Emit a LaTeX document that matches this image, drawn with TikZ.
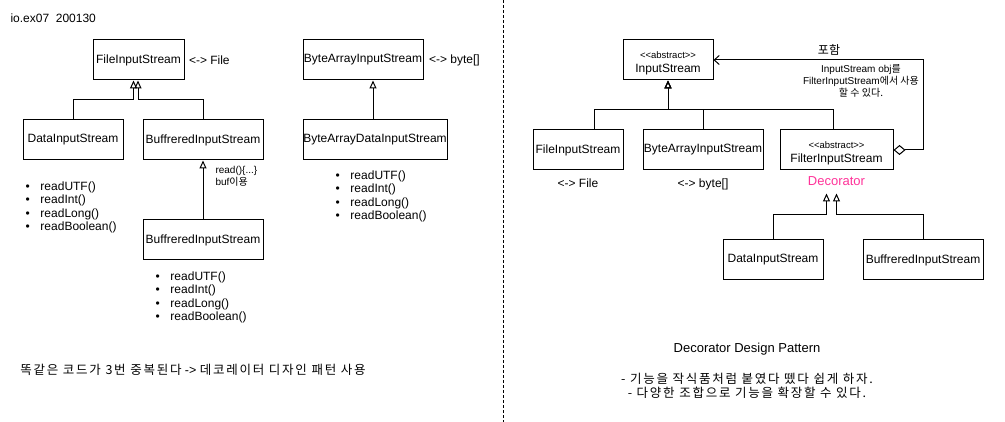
\documentclass[tikz,border=0pt]{standalone}
\usepackage{fontspec}
\setmainfont{Liberation Sans}
\newfontfamily\kr{Noto Sans CJK KR}
\newfontfamily\krwide{Noto Sans CJK KR}[LetterSpace=14]
\usetikzlibrary{arrows.meta,positioning}
\definecolor{deco}{HTML}{FF3399}
\tikzset{
    block/.style = {draw, rectangle, 
        minimum height=40pt, inner sep=0pt,
        align=center, font=\fontsize{12}{14}\selectfont},
    note/.style = {inner sep=0pt, font=\fontsize{12}{14}\selectfont},
    small/.style = {inner sep=0pt, align=center, font=\fontsize{10}{12}\selectfont},
    item/.style = {inner sep=0pt, anchor=base west, font=\fontsize{12}{14}\selectfont},
    inherit/.style = {draw, -{Triangle[open,width=7pt,length=8pt]}},
    aggr/.style = {draw, {Diamond[open,width=10pt,length=12pt]}-{Straight Barb[width=9pt,length=5pt]}},
    divider/.style = {dash pattern=on 3pt off 2pt}
}
\newcommand\bul{\makebox[15pt][l]{\textbullet}}
\newcommand\abstr{{\fontsize{9.5}{11}\selectfont\rule{0pt}{14pt}<{}<abstract>{}>}}

\begin{document}
\begin{tikzpicture}[x=1pt, y=-1pt, line width=1pt]
    \fill [white] (0,0) rectangle (1005,422);
    \useasboundingbox (0,0) rectangle (1005,422);
    % left half: one class per feature
    \node [note, anchor=west] (title) at (10,18) {io.ex07\ \ 200130};
    \node [block, minimum width=91pt] (fis) at (138.5,60) {FileInputStream};
    \node [note, right=4pt of fis] (fisnote) {<-> File};
    \node [block, minimum width=100pt] (dis) at (73,140) {DataInputStream};
    \node [block, minimum width=120pt] (bis) at (203,140) {BuffreredInputStream};
    \node [block, minimum width=120pt] (bisb) at (203,240) {BuffreredInputStream};
    \node [small, align=left, anchor=north west] (readnote) at (215,166) {read()\{...\}\\buf{\kr 이용}};
    \node [block, minimum width=120pt] (bais) at (363,60) {ByteArrayInputStream};
    \node [note, right=5pt of bais] (baisnote) {<-> byte[]};
    \node [block, minimum width=144pt] (bada) at (375,140) {ByteArrayDataInputStream};
    \draw [inherit] (dis.north) -- ++(0,-20) -| ([xshift=-5pt]fis.south);
    \draw [inherit] (bis.north) -- ++(0,-20) -| ([xshift=-0.5pt]fis.south);
    \draw [inherit] (bisb.north) -- (bis.south);
    \draw [inherit] ([xshift=-2pt]bada.north) -- ([xshift=-2pt]bada.north |- bais.south);
    \foreach \m [count=\k] in {readUTF(),readInt(),readLong(),readBoolean()} {
        \node [item] (dism\k) at (25,{190.5+13.4*(\k-1)}) {\bul\m};
        \node [item] (bism\k) at (155,{280.5+13.4*(\k-1)}) {\bul\m};
        \node [item] (badam\k) at (335,{179.5+13.4*(\k-1)}) {\bul\m};
    }
    \node [note, font=\fontsize{12.5}{14}\selectfont] (dup) at (193,370) {{\krwide 똑같은 코드가 3번 중복된다} -> {\krwide 데코레이터 디자인 패턴 사용}};
    \draw [divider] (503,0) -- (503,422);
    % right half: decorator pattern
    \node [block, minimum width=90pt] (is) at (668,60) {\abstr\\InputStream};
    \node [block, minimum width=90pt] (rfis) at (578,150) {FileInputStream};
    \node [block, minimum width=120pt] (rbais) at (703,150) {ByteArrayInputStream};
    \node [block, minimum width=113pt] (filt) at (836.5,150) {\abstr\\FilterInputStream};
    \node [note, below=8pt of rfis] (rfisnote) {<-> File};
    \node [note, below=8pt of rbais] (rbaisnote) {<-> byte[]};
    \node [note, text=deco, font=\fontsize{13}{15}\selectfont, minimum height=24pt] (deco) at (836.5,181) {Decorator};
    \node [block, minimum width=100pt] (rdis) at (773,260) {DataInputStream};
    \node [block, minimum width=120pt] (rbis) at (923,260) {BuffreredInputStream};
    \draw [inherit] ([xshift=16pt]rfis.north) -- ++(0,-20) -| (is.south);
    \draw [inherit] (rbais.north) -- ++(0,-20) -| (is.south);
    \draw [inherit] ([xshift=-3.5pt]filt.north) -- ++(0,-20) -| (is.south);
    \draw [inherit] (rdis.north) -- ++(0,-25) -| ([xshift=-10pt]deco.south);
    \draw [inherit] (rbis.north) -- ++(0,-25) -| (deco.south);
    \draw [aggr] (filt.east) -- ++(30,0) |- (is.east);
    \node [note] (contain) at (829,50) {{\kr 포함}};
    \node [small] (containnote) at (861,81) {InputStream obj{\kr 를}\\FilterInputStream{\kr 에서 사용}\\{\kr 할 수 있다.}};
    \node [note, font=\fontsize{13}{15}\selectfont] (pattern) at (747,349) {Decorator Design Pattern};
    \node [note, align=center, font=\fontsize{12.5}{14}\selectfont] (goal) at (747,386) {{\krwide - 기능을 작식품처럼 붙였다 뗐다 쉽게 하자.}\\{\krwide - 다양한 조합으로 기능을 확장할 수 있다.}};
\end{tikzpicture}
\end{document}
